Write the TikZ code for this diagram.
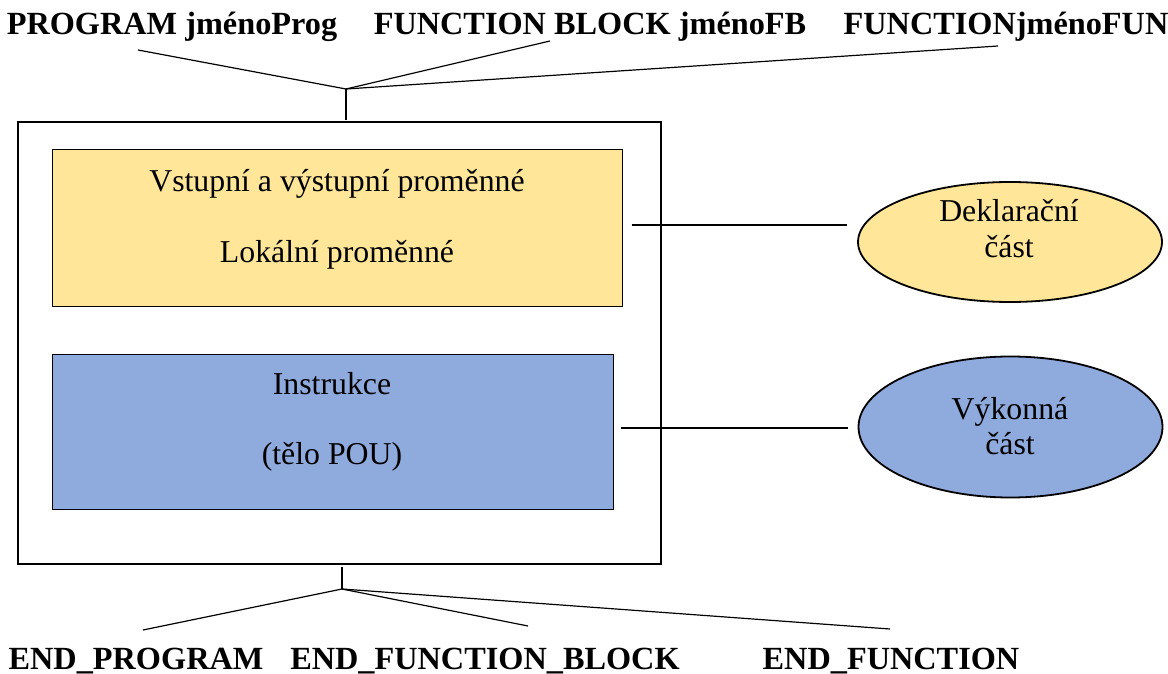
\documentclass[tikz,border=0pt]{standalone}
\usepackage{fontspec}
\setmainfont{Liberation Serif}
\usetikzlibrary{shapes.geometric}
\begin{document}
\begin{tikzpicture}[x=1pt,y=-1pt,
  lbl/.style={font=\fontsize{32.3}{36}\selectfont\bfseries, inner sep=0pt, anchor=base},
  txt/.style={font=\fontsize{31.8}{36}\selectfont, inner sep=0pt, anchor=base},
  box/.style={draw=black, line width=1pt, minimum width=0pt, inner sep=0pt},
  ell/.style={draw=black, line width=1.8pt, ellipse, inner sep=0pt},
  con/.style={draw=black, line width=1.2pt}]
\useasboundingbox (0,0) rectangle (1168,674);
\definecolor{yel}{HTML}{FFE699}
\definecolor{blu}{HTML}{8FAADC}
% outer box
\node[draw=black, line width=2.4pt, minimum width=643pt, minimum height=442pt, inner sep=0pt] (outer) at (339.5,343) {};
% inner boxes
\node[box, fill=yel, minimum width=570pt, minimum height=156pt] (decl) at (337,228) {};
\node[box, fill=blu, minimum width=561pt, minimum height=155pt] (instr) at (332.5,431.5) {};
\node[txt] (t1) at (337,192) {Vstupní a výstupní proměnné};
\node[txt] (t2) at (337,262) {Lokální proměnné};
\node[txt] (t3) at (332,394) {Instrukce};
\node[txt] (t4) at (332,464) {(tělo POU)};
% ellipses
\node[ell, fill=yel, minimum width=304pt, minimum height=120pt] (dek) at (1010,242) {};
\node[txt] (d1) at (1009,222) {Deklarační};
\node[txt] (d2) at (1009,257) {část};
\node[ell, fill=blu, minimum width=304pt, minimum height=141pt] (vyk) at (1010.5,427) {};
\node[txt] (v1) at (1010,419) {Výkonná};
\node[txt] (v2) at (1010,454) {část};
% connectors to ellipses
\draw[con] ([xshift=9pt,yshift=3pt]decl.east) -- ([xshift=-10pt,yshift=17pt]dek.west);
\draw[con] ([xshift=7pt,yshift=3.5pt]instr.east) -- ([xshift=-10pt,yshift=-1pt]vyk.west);
% top labels
\node[lbl] (lp) at (172,35) {PROGRAM jménoProg};
\node[lbl] (lfb) at (590,35) {FUNCTION BLOCK jménoFB};
\node[lbl] (lfun) at (1006,35) {FUNCTIONjménoFUN};
\coordinate (j1) at (346,89);
\coordinate (j1b) at (346,120);
\coordinate (a1) at (138,50);
\coordinate (a2) at (550,41);
\coordinate (a3) at (998,46);
\draw[con] (j1) -- (j1b);
\draw[con] (j1) -- (a1);
\draw[con] (j1) -- (a2);
\draw[con] (j1) -- (a3);
% bottom labels
\node[lbl] (ep) at (136,669) {END\_PROGRAM};
\node[lbl] (efb) at (485,669) {END\_FUNCTION\_BLOCK};
\node[lbl] (ef) at (891,669) {END\_FUNCTION};
\coordinate (j2) at (342,589);
\coordinate (j2b) at (342,567);
\coordinate (b1) at (143,630);
\coordinate (b2) at (528,626);
\coordinate (b3) at (890,629);
\draw[con] (j2) -- (j2b);
\draw[con] (j2) -- (b1);
\draw[con] (j2) -- (b2);
\draw[con] (j2) -- (b3);
\end{tikzpicture}
\end{document}
